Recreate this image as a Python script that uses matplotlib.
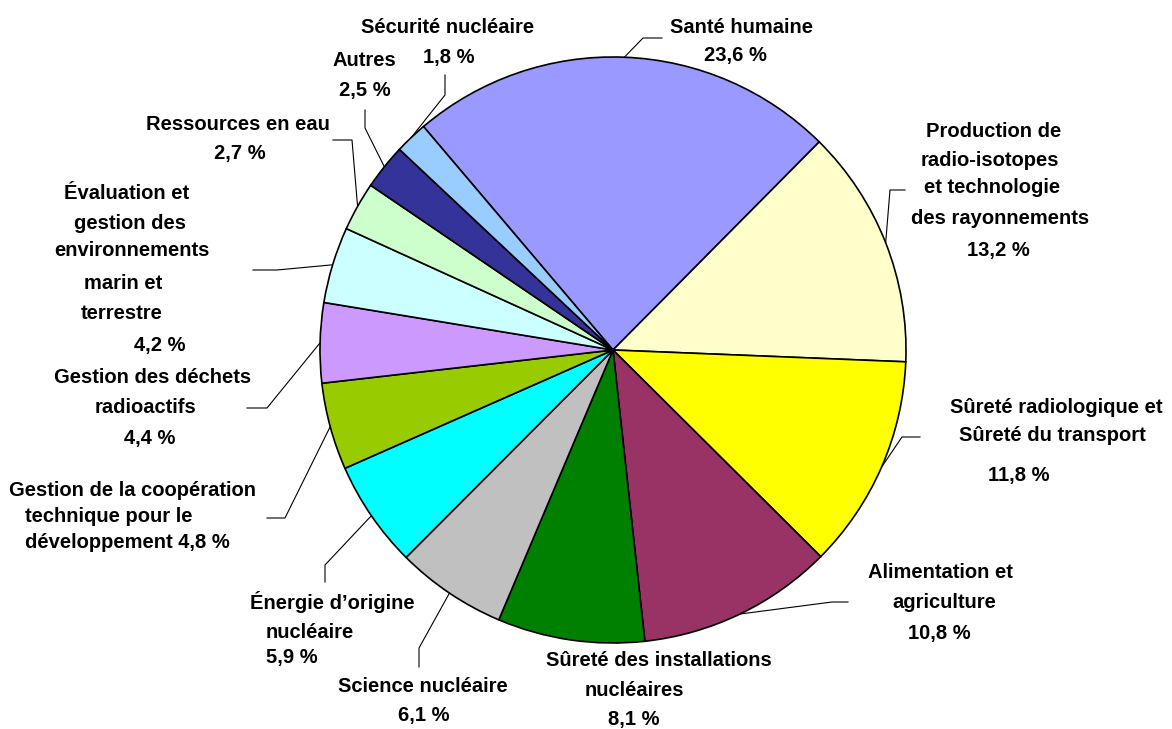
import numpy as np
import matplotlib
matplotlib.use("Agg")
import matplotlib.pyplot as plt

W, H = 1172, 729

# budget shares by programme area (%)
values = [23.6, 13.2, 11.8, 10.8, 8.1, 6.1, 5.9, 4.8, 4.4, 4.2, 2.7, 2.5, 1.8]
names = [
    "Santé humaine",
    "Production de\nradio-isotopes\net technologie\ndes rayonnements",
    "Sûreté radiologique et\nSûreté du transport",
    "Alimentation et\nagriculture",
    "Sûreté des installations\nnucléaires",
    "Science nucléaire",
    "Énergie d’origine\nnucléaire",
    "Gestion de la coopération\ntechnique pour le\ndéveloppement",
    "Gestion des déchets\nradioactifs",
    "Évaluation et\ngestion des\nenvironnements\nmarin et\nterrestre",
    "Ressources en eau",
    "Autres",
    "Sécurité nucléaire",
]
colors = ["#9999FF", "#FFFFCC", "#FFFF00", "#993366", "#008000", "#C0C0C0",
          "#00FFFF", "#99CC00", "#CC99FF", "#CCFFFF", "#CCFFCC", "#333399",
          "#99CCFF"]

# text line positions (x, y, ha) in pixels from the top-left, one per line
# the last entry of each list is where the percentage goes
line_pos = [
    [(741, 27, "center"), (735, 55, "center")],
    [(994, 131, "center"), (990, 160, "center"), (992, 187, "center"),
     (1000, 218, "center"), (998, 250, "center")],
    [(1056, 407, "center"), (1052, 435, "center"), (1019, 475, "center")],
    [(940, 572, "center"), (944, 602, "center"), (939, 634, "center")],
    [(659, 660, "center"), (634, 690, "center"), (634, 720, "center")],
    [(423, 686, "center"), (424, 716, "center")],
    [(332, 602, "center"), (266, 633, "left"), (266, 658, "left")],
    [(9, 490, "left"), (25, 517, "left"), (25, 542, "left"), None],
    [(153, 377, "center"), (145, 407, "center"), (150, 438, "center")],
    [(127, 193, "center"), (130, 223, "center"), (132, 250, "center"),
     (123, 283, "center"), (122, 313, "center"), (160, 345, "center")],
    [(238, 124, "center"), (240, 153, "center")],
    [(364, 60, "center"), (365, 90, "center")],
    [(448, 27, "center"), (449, 57, "center")],
]

# leader line: label end, elbow -> then to the wedge mid-arc
leaders = [
    [(662, 38), (643, 38)],
    [(905, 190), (890, 190)],
    [(920, 437), (902, 437)],
    [(848, 602), (832, 602)],
    None,
    [(419, 667), (419, 648)],
    [(325, 582), (325, 565)],
    [(267, 518), (285, 518)],
    [(247, 408), (267, 408)],
    [(253, 270), (277, 270)],
    [(333, 140), (352, 140)],
    [(365, 110), (365, 128)],
    [(445, 75), (445, 95)],
]

cx, cy, r = 613, H - 350, 293

fig = plt.figure(figsize=(W / 100, H / 100), dpi=100)
ax = fig.add_axes([0, 0, 1, 1])

wedges, _ = ax.pie(values, colors=colors, startangle=130.3, counterclock=False,
                   center=(cx, cy), radius=r, frame=True,
                   wedgeprops=dict(edgecolor="black", linewidth=1.2))

ax.set_xlim(0, W)
ax.set_ylim(0, H)
ax.set_aspect("equal")
ax.axis("off")

font = dict(family=["Liberation Sans", "DejaVu Sans"], fontweight="bold",
            fontsize=14.5, color="black")

for i, w in enumerate(wedges):
    pct = f"{values[i]:.1f} %".replace(".", ",")
    lines = names[i].split("\n")
    pos = line_pos[i]
    if pos[-1] is None:
        # percentage shares the last line
        lines[-1] = lines[-1] + " " + pct
        pos = pos[:-1]
    else:
        lines = lines + [pct]
    for txt, (x, y, ha) in zip(lines, pos):
        ax.text(x, H - y, txt, ha=ha, va="center", **font)

    if leaders[i] is not None:
        mid = np.deg2rad((w.theta1 + w.theta2) / 2)
        ax_pt = (cx + r * np.cos(mid), cy + r * np.sin(mid))
        xs = [p[0] for p in leaders[i]] + [ax_pt[0]]
        ys = [H - p[1] for p in leaders[i]] + [ax_pt[1]]
        ax.plot(xs, ys, color="black", lw=0.8, zorder=0.5)

fig.savefig("out.png", dpi=100, facecolor="white")
